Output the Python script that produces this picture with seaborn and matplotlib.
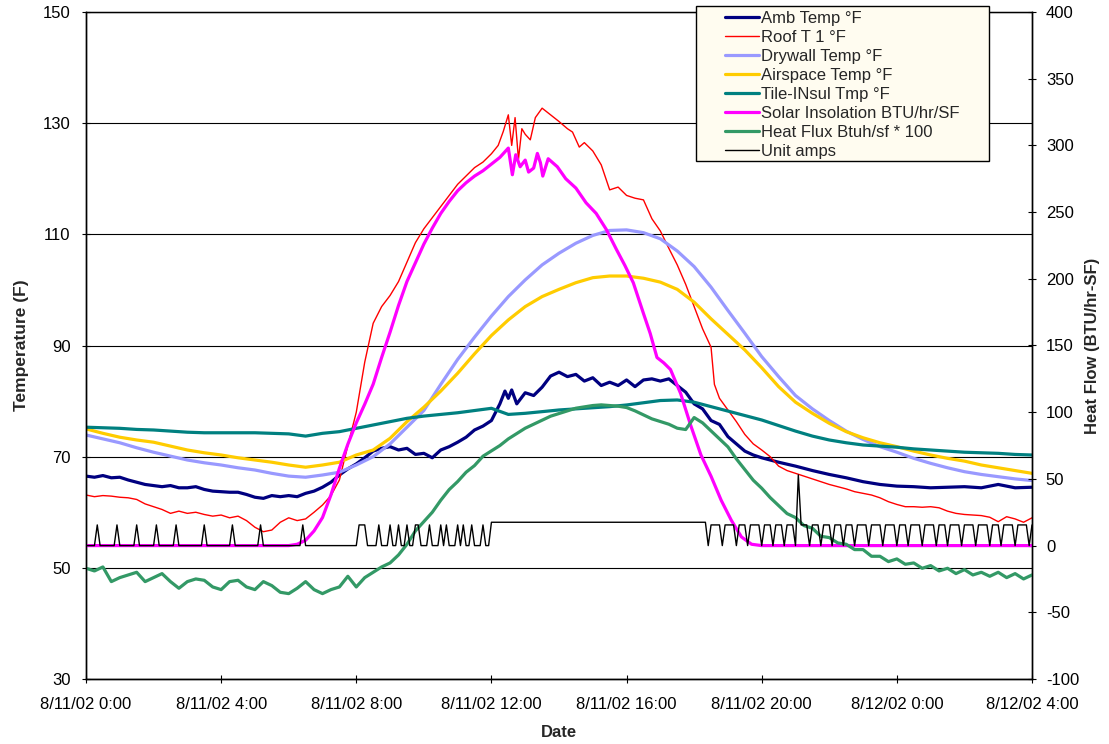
import numpy as np
import matplotlib
matplotlib.use("Agg")
import matplotlib.pyplot as plt
from matplotlib.lines import Line2D
from matplotlib.patches import Rectangle
import seaborn as sns

# ---------------- data (hours after 8/11/02 0:00) ----------------
amb_hours = [0, .25, .5, .75, 1, 1.25, 1.5, 1.75, 2, 2.25, 2.5, 2.75, 3, 3.25, 3.5, 3.75,
             4, 4.25, 4.5, 4.75, 5, 5.25, 5.5, 5.75, 6, 6.25, 6.5, 6.75, 7, 7.25, 7.5, 7.75,
             8, 8.25, 8.5, 8.75, 9, 9.25, 9.5, 9.75, 10, 10.25, 10.5, 10.75, 11, 11.25, 11.5,
             11.75, 12, 12.25, 12.4, 12.5, 12.6, 12.75, 13, 13.25, 13.5, 13.75, 14, 14.25,
             14.5, 14.75, 15, 15.25, 15.5, 15.75, 16, 16.25, 16.5, 16.75, 17, 17.25, 17.5,
             17.75, 18, 18.25, 18.5, 18.75, 19, 19.25, 19.5, 19.75, 20, 20.5, 21, 21.5, 22,
             22.5, 23, 23.5, 24, 24.5, 25, 25.5, 26, 26.5, 27, 27.5, 28]
amb_temp = [66.5, 66.3, 66.6, 66.2, 66.3, 65.8, 65.4, 65.0, 64.8, 64.6, 64.8, 64.4, 64.4, 64.6,
            64.1, 63.8, 63.7, 63.6, 63.6, 63.2, 62.7, 62.5, 63.0, 62.8, 63.0, 62.8, 63.4, 63.8,
            64.5, 65.4, 66.7, 67.8, 68.7, 69.8, 71.0, 71.5, 71.8, 71.2, 71.5, 70.4, 70.6, 69.8,
            71.2, 71.8, 72.6, 73.5, 74.8, 75.5, 76.5, 79.5, 81.8, 80.5, 82.0, 79.5, 81.5, 81.0,
            82.5, 84.5, 85.2, 84.4, 84.8, 83.6, 84.2, 82.8, 83.4, 82.8, 83.8, 82.6, 83.8, 84.0,
            83.6, 84.0, 82.8, 81.6, 79.5, 78.6, 76.5, 75.8, 73.6, 72.3, 71.0, 70.3, 69.8, 69.0,
            68.3, 67.5, 66.8, 66.2, 65.5, 65.0, 64.7, 64.6, 64.4, 64.5, 64.6, 64.4, 65.0, 64.4,
            64.5]

roof_hours = [0, .25, .5, .75, 1, 1.25, 1.5, 1.75, 2, 2.25, 2.5, 2.75, 3, 3.25, 3.5, 3.75, 4,
              4.25, 4.5, 4.75, 5, 5.25, 5.5, 5.75, 6, 6.25, 6.5, 6.75, 7, 7.25, 7.5, 7.75, 8,
              8.25, 8.5, 8.75, 9, 9.25, 9.5, 9.75, 10, 10.25, 10.5, 10.75, 11, 11.25, 11.5,
              11.75, 12, 12.2, 12.35, 12.5, 12.6, 12.7, 12.8, 12.9, 13, 13.15, 13.3, 13.5,
              13.75, 14, 14.25, 14.4, 14.6, 14.75, 15, 15.25, 15.5, 15.75, 16, 16.25, 16.5,
              16.75, 17, 17.25, 17.5, 17.75, 18, 18.25, 18.5, 18.6, 18.75, 19, 19.25, 19.5,
              19.75, 20, 20.25, 20.5, 20.75, 21, 21.25, 21.5, 21.75, 22, 22.25, 22.5, 22.75,
              23, 23.25, 23.5, 23.75, 24, 24.25, 24.5, 24.75, 25, 25.25, 25.5, 25.75, 26,
              26.25, 26.5, 26.75, 27, 27.25, 27.5, 27.75, 28]
roof_temp = [63.1, 62.8, 63.0, 62.9, 62.7, 62.6, 62.3, 61.5, 61.0, 60.5, 59.8, 60.2, 59.8,
             60.0, 59.6, 59.3, 59.5, 59.0, 59.3, 58.5, 57.3, 56.5, 56.8, 58.2, 59.0, 58.5, 58.8,
             60.0, 61.3, 63.0, 65.8, 72.0, 78.0, 87.0, 94.0, 97.0, 99.0, 101.5, 105.0, 108.5,
             111.0, 113.0, 115.0, 117.0, 119.0, 120.5, 122.0, 123.0, 124.5, 126.0, 128.5,
             131.5, 126.0, 131.0, 123.5, 129.0, 128.0, 127.0, 131.0, 132.7, 131.5, 130.3, 129.0,
             128.4, 125.7, 126.5, 125.0, 122.5, 118.0, 118.5, 117.0, 116.5, 116.2, 112.8, 110.6,
             107.5, 104.5, 101.0, 97.0, 93.0, 89.7, 83.0, 80.5, 78.4, 76.3, 74.0, 72.3, 71.2,
             70.0, 68.3, 67.5, 67.0, 66.5, 66.0, 65.5, 65.0, 64.6, 64.2, 63.7, 63.4, 63.1, 62.6,
             61.9, 61.4, 61.0, 61.0, 60.9, 61.0, 60.8, 60.2, 59.8, 59.6, 59.5, 59.4, 59.1, 58.3,
             59.2, 58.8, 58.2, 59.0]

half_hours = list(np.arange(0, 28.01, 0.5))
drywall_temp = [73.9, 73.2, 72.5, 71.6, 70.8, 70.1, 69.4, 68.9, 68.5, 68.0, 67.6, 67.0, 66.5,
                66.3, 66.7, 67.2, 68.5, 70.0, 72.3, 75.3, 78.3, 83.0, 87.5, 91.5, 95.3, 98.8,
                101.8, 104.5, 106.6, 108.4, 109.8, 110.7, 110.8, 110.3, 109.2, 107.0, 104.2,
                100.5, 96.3, 92.2, 88.0, 84.4, 81.0, 78.6, 76.5, 74.6, 73.1, 71.8, 70.8, 69.7,
                68.8, 68.0, 67.3, 66.8, 66.4, 66.0, 65.7]
airspace_temp = [75.0, 74.2, 73.5, 73.0, 72.6, 71.9, 71.2, 70.7, 70.3, 69.8, 69.4, 69.0, 68.5,
                 68.1, 68.5, 69.0, 70.3, 71.2, 73.3, 76.3, 78.9, 81.8, 85.0, 88.5, 91.8, 94.6,
                 97.0, 98.8, 100.1, 101.3, 102.2, 102.5, 102.5, 102.1, 101.4, 100.1, 97.8, 94.8,
                 92.0, 89.2, 86.0, 82.6, 79.8, 77.8, 76.0, 74.5, 73.4, 72.5, 71.8, 71.0, 70.3,
                 69.7, 69.2, 68.5, 68.0, 67.5, 67.0]
tile_temp = [75.3, 75.2, 75.1, 74.9, 74.8, 74.6, 74.4, 74.3, 74.3, 74.3, 74.3, 74.2, 74.1, 73.7,
             74.2, 74.5, 75.1, 75.7, 76.3, 76.9, 77.3, 77.6, 77.9, 78.3, 78.7, 77.6, 77.8, 78.1,
             78.4, 78.6, 78.8, 79.0, 79.3, 79.7, 80.1, 80.2, 79.8, 79.0, 78.2, 77.4, 76.6, 75.6,
             74.6, 73.7, 73.0, 72.5, 72.1, 71.9, 71.7, 71.4, 71.2, 71.0, 70.8, 70.7, 70.6, 70.4,
             70.3]

solar_hours = [0, 6, 6.25, 6.5, 6.75, 7, 7.25, 7.5, 7.75, 8, 8.25, 8.5, 8.75, 9, 9.25, 9.5,
               9.75, 10, 10.25, 10.5, 10.75, 11, 11.25, 11.5, 11.75, 12, 12.25, 12.5, 12.62,
               12.72, 12.85, 13, 13.1, 13.25, 13.36, 13.45, 13.52, 13.68, 13.95, 14.2, 14.5,
               14.8, 15.1, 15.4, 15.7, 15.95, 16.2, 16.5, 16.7, 16.9, 17.1, 17.3, 17.6, 17.9,
               18.2, 18.5, 18.8, 19.1, 19.4, 19.7, 20, 28]
solar_insolation = [0, 0, 1, 4, 11, 21, 38, 58, 76, 92, 106, 121, 141, 160, 180, 198, 212, 226,
                    238, 249, 258, 266, 272, 277, 281, 286, 291, 298, 278, 293, 284, 289, 280,
                    283, 294, 287, 277, 290, 284, 275, 268, 257, 249, 237, 222, 210, 197, 174,
                    159, 141, 137, 132, 114, 90, 68, 52, 34, 19, 6.5, 1, 0, 0]

quarter_hours = list(np.arange(0, 28.01, 0.25))
heat_flux = [-17, -19, -16, -27, -24, -22, -20, -27, -24, -21, -27, -32, -27, -25, -26, -31,
             -33, -27, -26, -31, -33, -27, -30, -35, -36, -32, -27, -33, -36, -33, -31, -23,
             -31, -24, -20, -16, -13, -7, 1, 11, 18, 25, 34, 42, 48, 55, 60, 67, 71, 75, 80, 84,
             88, 91, 94, 97, 99, 101, 103, 104, 105, 105.5, 105, 104.5, 103.5, 101, 98, 95, 93,
             91, 88, 87, 96, 92, 86, 80, 74, 65, 57, 49, 43, 36, 30, 24, 21, 15, 13, 7, 6, 2, 1,
             -3, -3, -8, -8, -12, -10, -14, -13, -17, -15, -19, -17, -21, -18, -22, -20, -23,
             -20, -24, -21, -25, -22]

# Unit amps, logged every 5 minutes
amps_step_hours = 1 / 12
amps_cycle_level = 15.5
amps_run_level = 17.5
amps_single_on = [0.33, 0.92, 1.5, 2.08, 2.67, 3.5, 4.33, 5.17, 6.42,
                  8.08, 8.17, 8.25, 8.67, 9.0, 9.25, 9.5, 9.75, 9.83, 10.17, 10.5, 10.67,
                  11.0, 11.17, 11.42, 11.75]
amps_long_run = (12.0, 18.33)
amps_evening_off = [18.42, 18.83, 19.25, 19.58, 20.0, 20.33, 20.67, 21.0, 21.42, 21.75, 22.08,
                    22.42, 22.75, 23.17, 23.58, 24.0, 24.33, 24.75, 25.17, 25.5, 25.92, 26.33,
                    26.75, 27.08, 27.5, 27.92]
amps_surge = (21.08, 53.0)

tick_hours = [0, 4, 8, 12, 16, 20, 24, 28]
tick_labels = ["8/11/02 0:00", "8/11/02 4:00", "8/11/02 8:00", "8/11/02 12:00",
               "8/11/02 16:00", "8/11/02 20:00", "8/12/02 0:00", "8/12/02 4:00"]

# ---------------- build the amps trace ----------------
amps_hours = np.round(np.arange(0, 28 + 1e-9, amps_step_hours), 4)
amps = np.zeros_like(amps_hours)
idx = lambda h: int(round(h / amps_step_hours))
for h in amps_single_on:
    amps[idx(h)] = amps_cycle_level
amps[idx(amps_long_run[0]):idx(amps_long_run[1]) + 1] = amps_run_level
amps[idx(amps_long_run[1]) + 1:] = amps_cycle_level
for h in amps_evening_off:
    amps[idx(h)] = 0
amps[idx(amps_surge[0])] = amps_surge[1]

# ---------------- styling ----------------
sns.set_style("white")
plt.rcParams["font.family"] = ["Liberation Sans", "DejaVu Sans"]
plt.rcParams["axes.unicode_minus"] = False

W, H = 1109, 744
fig = plt.figure(figsize=(W / 100, H / 100), dpi=100)
ax = fig.add_axes([86 / W, 1 - 679 / H, (1032 - 86) / W, (679 - 12) / H])
ax2 = ax.twinx()

temp_series = [
    ("Amb Temp °F", amb_hours, amb_temp, "#000080", 2.3),
    ("Roof T 1 °F", roof_hours, roof_temp, "#FF0000", 1.0),
    ("Drywall Temp °F", half_hours, drywall_temp, "#9999FF", 2.3),
    ("Airspace Temp °F", half_hours, airspace_temp, "#FFCC00", 2.3),
    ("Tile-INsul Tmp °F", half_hours, tile_temp, "#008080", 2.3),
]
flow_series = [
    ("Solar Insolation BTU/hr/SF", solar_hours, solar_insolation, "#FF00FF", 2.3),
    ("Heat Flux Btuh/sf * 100", quarter_hours, heat_flux, "#339966", 2.3),
    ("Unit amps", amps_hours, amps, "#000000", 1.0),
]

for name, xs, ys, c, lw in temp_series:
    sns.lineplot(x=np.asarray(xs, float), y=np.asarray(ys, float), ax=ax, color=c,
                 linewidth=lw, sort=False, legend=False, errorbar=None)
for name, xs, ys, c, lw in flow_series:
    sns.lineplot(x=np.asarray(xs, float), y=np.asarray(ys, float), ax=ax2, color=c,
                 linewidth=lw, sort=False, legend=False, errorbar=None)

ax.set_xlim(0, 28)
ax.set_ylim(30, 150)
ax2.set_ylim(-100, 400)
ax.set_yticks(range(30, 151, 20))
ax2.set_yticks(range(-100, 401, 50))
ax.set_xticks(tick_hours)
ax.set_xticklabels(tick_labels)

ax.yaxis.grid(True, color="black", linewidth=0.8)
ax.set_axisbelow(True)
for a in (ax, ax2):
    for s in a.spines.values():
        s.set_color("black")
        s.set_linewidth(1.0)
ax.spines["top"].set_linewidth(0.8)

ax.tick_params(axis="y", direction="inout", length=6, width=0.8, pad=8, labelsize=12,
               left=True, colors="black")
ax.tick_params(axis="x", direction="inout", length=6, width=0.8, pad=10, labelsize=12,
               bottom=True, colors="black")
ax2.tick_params(axis="y", direction="inout", length=6, width=0.8, pad=7, labelsize=12,
                right=True, colors="black")

ax.set_xlabel("Date", fontsize=12, fontweight="bold", labelpad=9)
ax.set_ylabel("Temperature (F)", fontsize=12.5, fontweight="bold", labelpad=10)
ax2.set_ylabel("Heat Flow (BTU/hr-SF)", fontsize=12, fontweight="bold", labelpad=4)

# legend box
fig.patches.append(Rectangle((696 / W, 1 - 161 / H), (989 - 696) / W, (161 - 6) / H,
                             transform=fig.transFigure, facecolor="#FFFCF0",
                             edgecolor="black", linewidth=1.0, zorder=4))
handles = [Line2D([], [], color=c, linewidth=lw) for _, _, _, c, lw in temp_series + flow_series]
labels = [n for n, *_ in temp_series + flow_series]
leg = fig.legend(handles, labels, loc="upper left", bbox_to_anchor=(725 / W, 1 - 11 / H),
                 frameon=False, fontsize=12, handlelength=2.05, handletextpad=0.1,
                 labelspacing=0.24, borderpad=0, borderaxespad=0)
leg.set_zorder(5)

fig.savefig("out.png", dpi=100)
